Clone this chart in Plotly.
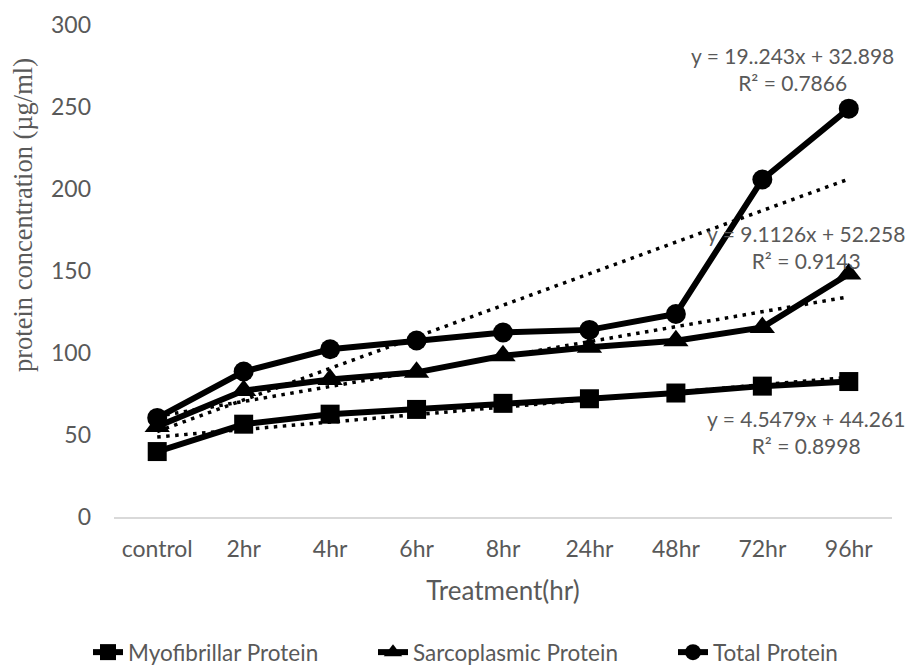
import plotly.graph_objects as go

# ---- data ----
categories = ["control", "2hr", "4hr", "6hr", "8hr", "24hr", "48hr", "72hr", "96hr"]
myofibrillar = [39.9, 56.6, 62.7, 65.6, 69.3, 72.1, 75.6, 79.8, 82.6]
sarcoplasmic = [55.2, 77.1, 83.9, 88.2, 98.3, 103.5, 107.5, 115.6, 148.2]
total = [60.4, 88.7, 102.3, 107.6, 112.5, 114.1, 123.8, 205.8, 249.0]
series_names = ["Myofibrillar Protein", "Sarcoplasmic Protein", "Total Protein"]

trend_slopes = [4.5479, 9.1126, 19.243]
trend_intercepts = [44.261, 52.258, 32.898]
trend_labels = [
    "y = 4.5479x + 44.261<br>R² = 0.8998",
    "y = 9.1126x + 52.258<br>R² = 0.9143",
    "y = 19..243x + 32.898<br>R² = 0.7866",
]
y_ticks = [0, 50, 100, 150, 200, 250, 300]

# ---- styling ----
GRAY = "#595959"
SANS = "Lato, Carlito, Calibri, sans-serif"
markers = ["square", "triangle-up", "circle"]
msizes = [19, 22, 20]

W, H = 908, 668
ML, MR, MT, MB = 114, 16, 25, 151
w_plot = W - ML - MR
h_plot = H - MT - MB

x_idx = list(range(len(categories)))
fig = go.Figure()

legend_ids = ["legend", "legend2", "legend3"]
for name, vals, sym, ms, lg in zip(series_names, [myofibrillar, sarcoplasmic, total], markers, msizes, legend_ids):
    fig.add_trace(go.Scatter(
        x=x_idx, y=vals, name=name, mode="lines+markers", legend=lg,
        line=dict(color="black", width=6),
        marker=dict(symbol=sym, size=ms, color="black"),
    ))

# linear trendlines (Excel-style, x = 1..n)
for s, b in zip(trend_slopes, trend_intercepts):
    xs = [x_idx[0], x_idx[-1]]
    ys = [s * (i + 1) + b for i in xs]
    fig.add_trace(go.Scatter(
        x=xs, y=ys, mode="lines", showlegend=False, hoverinfo="skip",
        line=dict(color="black", width=3.5, dash="3.5px,5.5px"),
    ))

label_anchor = [(7.5, 52), (7.5, 164.6), (7.35, 273)]
for txt, (ax, ay) in zip(trend_labels, label_anchor):
    fig.add_annotation(x=ax, y=ay, xref="x", yref="y", text=txt, showarrow=False,
                       xanchor="center", yanchor="middle", align="center",
                       font=dict(family=SANS, size=21, color=GRAY))

# y axis title (serif, as in reference), placed in pixel terms
fig.add_annotation(x=(23 - ML) / w_plot, y=(H - MB - 215) / h_plot,
                   xref="paper", yref="paper",
                   text="protein concentration (µg/ml)", showarrow=False,
                   textangle=-90, xanchor="center", yanchor="middle",
                   font=dict(family="Liberation Serif, Times New Roman, serif", size=26.5, color=GRAY))

legend_left_px = [88, 373, 673]
legend_top_px = 631
leg_common = dict(orientation="h", xanchor="left", yanchor="top",
                  font=dict(family=SANS, size=22.5, color=GRAY),
                  bgcolor="rgba(0,0,0,0)", itemsizing="trace")
legends = {}
for lg, lx in zip(legend_ids, legend_left_px):
    legends[lg] = dict(x=(lx - ML) / w_plot, y=-(legend_top_px - (H - MB)) / h_plot, **leg_common)

fig.update_layout(
    width=W, height=H,
    margin=dict(l=ML, r=MR, t=MT, b=MB, autoexpand=False),
    paper_bgcolor="white", plot_bgcolor="white",
    showlegend=True,
    **legends,
    xaxis=dict(range=[-0.5, 8.5], tickvals=x_idx, ticktext=categories,
               showgrid=False, zeroline=False, showline=True, linecolor="#d9d9d9",
               linewidth=1.5, ticks="", ticklabelstandoff=11, automargin=False,
               tickfont=dict(family=SANS, size=23, color=GRAY),
               title=dict(text="Treatment(hr)", standoff=20,
                          font=dict(family=SANS, size=26, color=GRAY))),
    yaxis=dict(range=[0, 300], tickvals=y_ticks, showgrid=False, zeroline=False,
               showline=False, ticks="", ticklabelstandoff=22, automargin=False,
               tickfont=dict(family=SANS, size=23, color=GRAY)),
)

fig.write_html("out.html")
